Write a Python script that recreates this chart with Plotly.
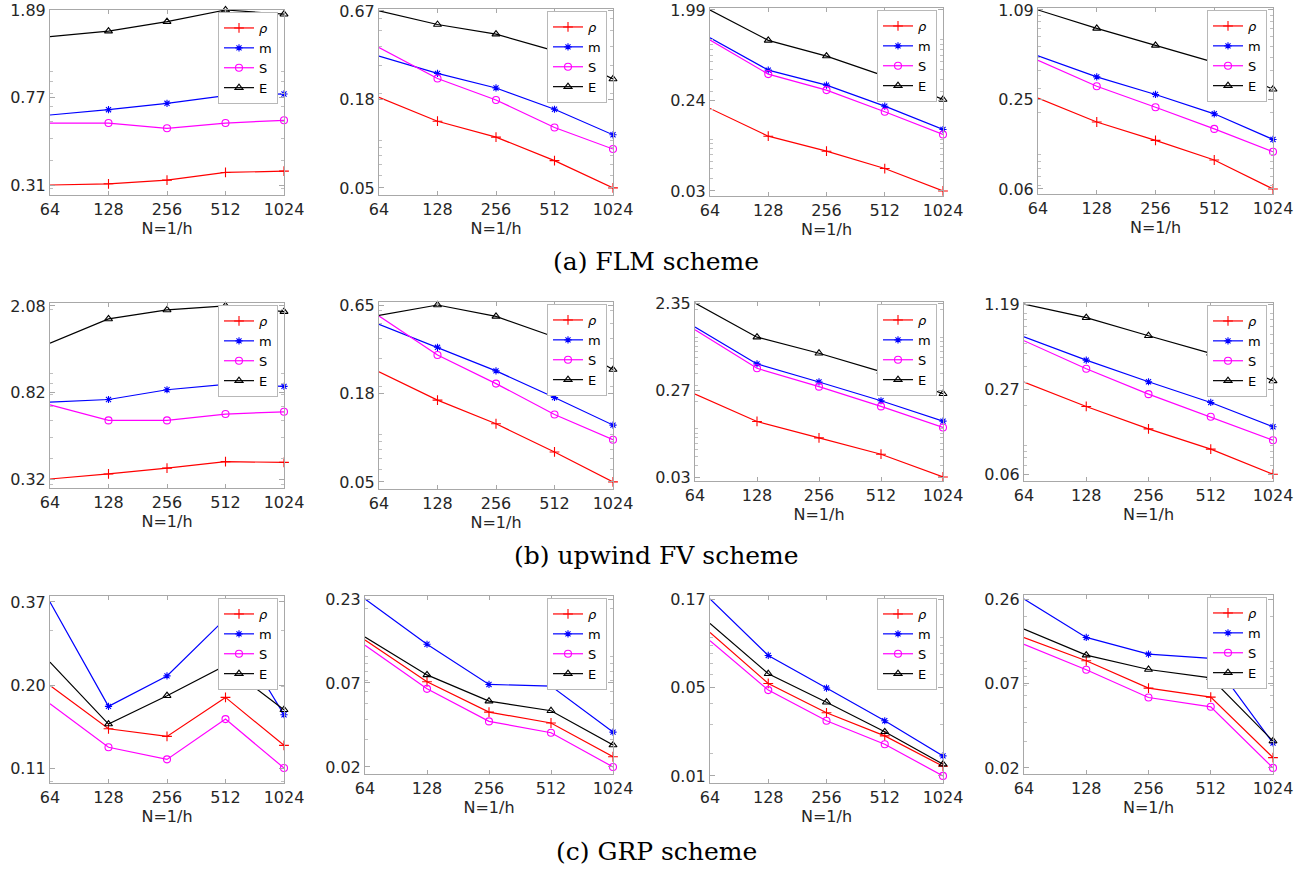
import math
import plotly.graph_objects as go

# ---------------- data ----------------
N = [64, 128, 256, 512, 1024]
x_labels = ["64", "128", "256", "512", "1024"]
series_names = ["<i>ρ</i>", "m", "S", "E"]
captions = ["(a) FLM scheme", "(b) upwind FV scheme", "(c) GRP scheme"]

# (a) FLM scheme, four panels each
flm_rho = [[0.31, 0.314, 0.326, 0.353, 0.358],
           [0.189, 0.133, 0.1053, 0.0746, 0.05],
           [0.203, 0.1067, 0.0754, 0.0504, 0.03],
           [0.255, 0.172, 0.127, 0.0919, 0.057]]
flm_m = [[0.639, 0.675, 0.721, 0.780, 0.794],
         [0.3455, 0.268, 0.2166, 0.1585, 0.109],
         [1.047, 0.494, 0.349, 0.214, 0.1246],
         [0.512, 0.362, 0.2707, 0.1968, 0.129]]
flm_S = [[0.588, 0.588, 0.557, 0.588, 0.605],
         [0.392, 0.249, 0.1817, 0.1213, 0.0884],
         [0.992, 0.450, 0.3106, 0.1878, 0.111],
         [0.4745, 0.31, 0.2193, 0.1535, 0.1052]]
flm_E = [[1.435, 1.52, 1.676, 1.89, 1.81],
         [0.67, 0.549, 0.477, 0.3735, 0.247],
         [1.99, 0.984, 0.684, 0.430, 0.250],
         [1.09, 0.805, 0.608, 0.4595, 0.295]]
flm_ticks = [["0.31", "0.77", "1.89"], ["0.05", "0.18", "0.67"],
             ["0.03", "0.24", "1.99"], ["0.06", "0.25", "1.09"]]

# (b) upwind FV scheme
fv_rho = [[0.32, 0.338, 0.360, 0.386, 0.383],
          [0.2466, 0.1637, 0.1162, 0.0772, 0.05],
          [0.240, 0.1207, 0.080, 0.0531, 0.03],
          [0.3027, 0.197, 0.133, 0.0931, 0.06]]
fv_m = [[0.735, 0.756, 0.840, 0.890, 0.871],
        [0.491, 0.352, 0.250, 0.170, 0.114],
        [1.285, 0.511, 0.325, 0.203, 0.1217],
        [0.670, 0.4446, 0.304, 0.2114, 0.138]]
fv_S = [[0.714, 0.603, 0.603, 0.646, 0.662],
        [0.555, 0.315, 0.208, 0.133, 0.0922],
        [1.20, 0.458, 0.2888, 0.176, 0.1038],
        [0.625, 0.382, 0.2446, 0.1643, 0.109]]
fv_E = [[1.39, 1.807, 1.992, 2.08, 1.956],
        [0.560, 0.65, 0.5515, 0.409, 0.255],
        [2.35, 0.999, 0.668, 0.421, 0.242],
        [1.19, 0.936, 0.682, 0.500, 0.309]]
fv_ticks = [["0.32", "0.82", "2.08"], ["0.05", "0.18", "0.65"],
            ["0.03", "0.27", "2.35"], ["0.06", "0.27", "1.19"]]

# (c) GRP scheme
grp_rho = [[0.2012, 0.1466, 0.1386, 0.1843, 0.1298],
           [0.1269, 0.069, 0.0444, 0.0379, 0.0232],
           [0.108, 0.053, 0.0352, 0.0255, 0.0167],
           [0.145, 0.1018, 0.0672, 0.0586, 0.0234]]
grp_m = [[0.37, 0.1726, 0.2156, 0.3275, 0.1624],
         [0.23, 0.1191, 0.0664, 0.0648, 0.0332],
         [0.172, 0.0783, 0.0497, 0.0315, 0.0193],
         [0.26, 0.1451, 0.1126, 0.1055, 0.0292]]
grp_S = [[0.176, 0.128, 0.1172, 0.1573, 0.11],
         [0.1174, 0.0623, 0.0388, 0.0329, 0.02],
         [0.0961, 0.0483, 0.0315, 0.0227, 0.0146],
         [0.1305, 0.0888, 0.0583, 0.0506, 0.02]]
grp_E = [[0.2386, 0.1517, 0.1866, 0.2329, 0.1684],
         [0.1325, 0.0763, 0.0521, 0.0453, 0.0275],
         [0.1225, 0.0607, 0.0408, 0.027, 0.0172],
         [0.1647, 0.111, 0.0892, 0.0786, 0.0301]]
grp_ticks = [["0.11", "0.20", "0.37"], ["0.02", "0.07", "0.23"],
             ["0.01", "0.05", "0.17"], ["0.02", "0.07", "0.26"]]

schemes = [
    (flm_rho, flm_m, flm_S, flm_E, flm_ticks),
    (fv_rho, fv_m, fv_S, fv_E, fv_ticks),
    (grp_rho, grp_m, grp_S, grp_E, grp_ticks),
]

# ---------------- layout / style ----------------
W, H = 1312, 869
# plot boxes in pixels: (left, right, top, bottom)
boxes = [
    [(50, 284, 10, 195), (379, 613, 9, 195), (710, 943, 8, 196), (1038, 1273, 8, 194)],
    [(50, 284, 303, 488), (379, 613, 302, 489), (695, 943, 302, 481), (1024, 1273, 303, 481)],
    [(50, 284, 596, 783), (365, 613, 596, 774), (710, 943, 596, 783), (1024, 1273, 595, 774)],
]
# y padding (top, bottom) as fraction of the data log-span
pads = [
    [(0.0, 0.057), (0.011, 0.04), (0.011, 0.028), (0.011, 0.028)],
    [(0.017, 0.052), (0.017, 0.04), (0.006, 0.023), (0.006, 0.04)],
    [(0.036, 0.09), (0.018, 0.042), (0.017, 0.04), (0.024, 0.036)],
]
caption_y = [262, 555, 851]

styles = [
    dict(color="#ff0000", symbol="cross-thin-open", size=7),
    dict(color="#0000ff", symbol="asterisk-open", size=6),
    dict(color="#ff00ff", symbol="circle-open", size=7),
    dict(color="#000000", symbol="triangle-up-open", size=7),
]

TXT = "#262626"
AXC = "#a8a8a8"
FONT = "DejaVu Sans"
minor_vals = [d * 10.0 ** e for e in range(-3, 2) for d in range(1, 10)]

fig = go.Figure()
layout = dict(
    width=W, height=H, margin=dict(l=0, r=0, t=0, b=0, autoexpand=False),
    paper_bgcolor="white", plot_bgcolor="white",
    font=dict(family=FONT, color=TXT), annotations=[],
)

for r, (rho, m, S, E, ticks) in enumerate(schemes):
    for c in range(4):
        k = r * 4 + c + 1
        xa = "x" if k == 1 else f"x{k}"
        ya = "y" if k == 1 else f"y{k}"
        lg = "legend" if k == 1 else f"legend{k}"
        series = [rho[c], m[c], S[c], E[c]]
        for name, vals, st in zip(series_names, series, styles):
            fig.add_trace(go.Scatter(
                x=N, y=vals, name=name, mode="lines+markers",
                xaxis=xa, yaxis=ya, legend=lg, cliponaxis=False,
                line=dict(color=st["color"], width=1.2),
                marker=dict(symbol=st["symbol"], size=st["size"], color=st["color"],
                            line=dict(color=st["color"], width=1.1)),
            ))
        allv = [v for s in series for v in s]
        vmin, vmax = min(allv), max(allv)
        lmin, lmax = math.log10(vmin), math.log10(vmax)
        span = lmax - lmin
        pt, pb = pads[r][c]
        left, right, top, bottom = boxes[r][c]
        xkey = "xaxis" if k == 1 else f"xaxis{k}"
        ykey = "yaxis" if k == 1 else f"yaxis{k}"
        layout[xkey] = dict(
            type="log", domain=[left / W, right / W], anchor=ya, automargin=False,
            range=[math.log10(N[0]), math.log10(N[-1])],
            tickmode="array", tickvals=N, ticktext=x_labels,
            ticks="inside", ticklen=4, tickcolor=AXC,
            showline=True, linecolor=AXC, linewidth=1, mirror="ticks",
            showgrid=False, zeroline=False,
            tickfont=dict(size=16, color=TXT, family=FONT),
            title=dict(text="N=1/h", font=dict(size=16, color=TXT, family=FONT), standoff=0),
        )
        layout[ykey] = dict(
            type="log", domain=[1 - bottom / H, 1 - top / H], anchor=xa, automargin=False,
            range=[lmin - pb * span, lmax + pt * span],
            tickmode="array", tickvals=[vmin, math.sqrt(vmin * vmax), vmax],
            ticktext=ticks[c],
            ticks="inside", ticklen=5, tickcolor=AXC,
            minor=dict(tickmode="array", tickvals=minor_vals, ticks="inside",
                       ticklen=3, tickcolor="#c0c0c0", showgrid=False),
            showline=True, linecolor=AXC, linewidth=1, mirror="ticks",
            showgrid=False, zeroline=False,
            tickfont=dict(size=16, color=TXT, family=FONT),
        )
        layout[lg] = dict(
            x=(right - 6) / W, y=1 - (top + 2) / H, xanchor="right", yanchor="top",
            xref="paper", yref="paper",
            bgcolor="white", bordercolor="#b8b8b8", borderwidth=1,
            font=dict(size=13, color="#000000", family=FONT),
            tracegroupgap=0, itemwidth=30,
        )
    layout["annotations"].append(dict(
        text=captions[r], x=0.5, y=1 - caption_y[r] / H, xref="paper", yref="paper",
        xanchor="center", yanchor="middle", showarrow=False,
        font=dict(family="DejaVu Serif", size=25, color="#000000"),
    ))

fig.update_layout(**layout)
fig.write_html("out.html", config={"displayModeBar": False},
               post_script="document.body.style.margin='0px';")
